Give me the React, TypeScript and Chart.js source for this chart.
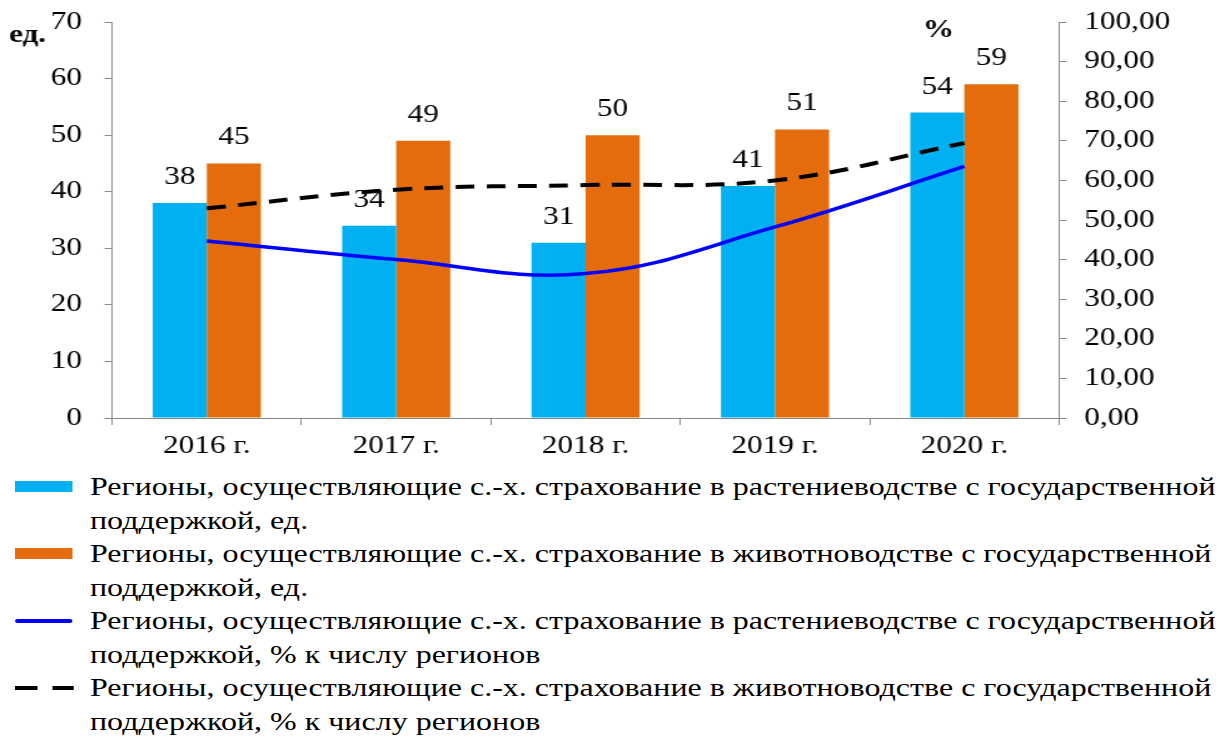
import React, { useEffect, useRef } from "react";
import { Chart, registerables } from "chart.js";

Chart.register(...registerables);

const categories = ["2016 г.", "2017 г.", "2018 г.", "2019 г.", "2020 г."];
const cropRegions = [38, 34, 31, 41, 54];
const livestockRegions = [45, 49, 50, 51, 59];
const cropPercent = [44.71, 40.0, 36.47, 48.24, 63.53];
const livestockPercent = [52.94, 57.65, 58.82, 60.0, 69.41];

const legendLabels = [
  ["Регионы, осуществляющие с.-х. страхование в растениеводстве с государственной", "поддержкой, ед."],
  ["Регионы, осуществляющие с.-х. страхование в животноводстве с государственной", "поддержкой, ед."],
  ["Регионы, осуществляющие с.-х. страхование в растениеводстве с государственной", "поддержкой, % к числу регионов"],
  ["Регионы, осуществляющие с.-х. страхование в животноводстве с государственной", "поддержкой, % к числу регионов"],
];

const S = 1.25;
const W = 1226 / S;
const FONT = "'Liberation Serif', 'Times New Roman', serif";
const BLUE_BAR = "#00B0F0";
const ORANGE_BAR = "#E46C0A";
const BLUE_LINE = "#0000FF";
const AXIS = "#898989";

const labelPlugin = {
  id: "labelsAndTitles",
  afterDatasetsDraw(chart: any) {
    const ctx = chart.ctx;
    ctx.save();
    ctx.fillStyle = "#000";
    ctx.font = `25px ${FONT}`;
    ctx.textAlign = "center";
    ctx.textBaseline = "alphabetic";
    [0, 1].forEach((di) => {
      const meta = chart.getDatasetMeta(di);
      const vals = chart.data.datasets[di].data as number[];
      meta.data.forEach((bar: any, j: number) => {
        ctx.fillText(String(vals[j]), bar.x, bar.y - 19);
      });
    });
    ctx.font = `bold 25px ${FONT}`;
    ctx.textAlign = "left";
    ctx.fillText("ед.", 9 / S, 42);
    ctx.fillText("%", 922 / S, 37);
    ctx.restore();
  },
};

export default function App() {
  const ref = useRef<HTMLCanvasElement | null>(null);
  useEffect(() => {
    if (!ref.current) return;
    const tickFont = { family: FONT, size: 25 };
    const chart = new Chart(ref.current, {
      type: "bar",
      data: {
        labels: categories,
        datasets: [
          {
            type: "bar",
            label: legendLabels[0].join(" "),
            data: cropRegions,
            backgroundColor: BLUE_BAR,
            yAxisID: "y",
            order: 1,
            categoryPercentage: 0.571,
            barPercentage: 1,
          },
          {
            type: "bar",
            label: legendLabels[1].join(" "),
            data: livestockRegions,
            backgroundColor: ORANGE_BAR,
            yAxisID: "y",
            order: 1,
            categoryPercentage: 0.571,
            barPercentage: 1,
          },
          {
            type: "line",
            label: legendLabels[2].join(" "),
            data: cropPercent,
            borderColor: BLUE_LINE,
            borderWidth: 3.5,
            pointRadius: 0,
            tension: 0.4,
            yAxisID: "y1",
            order: 0,
          },
          {
            type: "line",
            label: legendLabels[3].join(" "),
            data: livestockPercent,
            borderColor: "#000",
            borderWidth: 4,
            borderDash: [15, 10],
            pointRadius: 0,
            tension: 0.4,
            yAxisID: "y1",
            order: 0,
          },
        ] as any,
      },
      options: {
        animation: false,
        responsive: true,
        maintainAspectRatio: false,
        layout: { padding: { top: 22, left: 0, right: 0, bottom: 0 } },
        plugins: { legend: { display: false }, tooltip: { enabled: false } },
        scales: {
          x: {
            grid: { offset: true, drawOnChartArea: false, drawTicks: true, tickLength: 7, color: AXIS },
            border: { color: AXIS },
            ticks: { font: tickFont, color: "#000", padding: 6 },
            afterFit: (s: any) => { s.height = 42; s.paddingLeft = 0; s.paddingRight = 0; },
          },
          y: {
            position: "left",
            min: 0,
            max: 70,
            ticks: { stepSize: 10, font: tickFont, color: "#000", padding: 18 },
            grid: { drawOnChartArea: false, drawTicks: true, tickLength: 6, color: AXIS },
            border: { color: AXIS },
            afterFit: (s: any) => { s.width = 112 / S; s.paddingTop = 0; s.paddingBottom = 0; },
          },
          y1: {
            position: "right",
            min: 0,
            max: 100,
            ticks: {
              stepSize: 10,
              font: tickFont,
              color: "#000",
              padding: 14,
              callback: (v: any) => Number(v).toFixed(2).replace(".", ","),
            },
            grid: { drawOnChartArea: false, drawTicks: true, tickLength: 6, color: AXIS },
            border: { color: AXIS },
            afterFit: (s: any) => { s.width = (1226 - 1058) / S; s.paddingTop = 0; s.paddingBottom = 0; },
          },
        },
      } as any,
      plugins: [labelPlugin],
    });
    return () => chart.destroy();
  }, []);

  const markerBox = (color: string) => (
    <div style={{ position: "absolute", left: 15 / S, top: 11, width: 57 / S, height: 11, background: color }} />
  );
  const markers = [
    markerBox(BLUE_BAR),
    markerBox(ORANGE_BAR),
    <div style={{ position: "absolute", left: 15 / S, top: 15, width: 57 / S, height: 3.5, background: BLUE_LINE, borderRadius: 2 }} />,
    <div style={{ position: "absolute", left: 15 / S, top: 15, width: 57 / S, height: 4 }}>
      <div style={{ position: "absolute", left: 0, top: 0, width: 22 / S, height: 4, background: "#000" }} />
      <div style={{ position: "absolute", left: 37 / S, top: 0, width: 22 / S, height: 4, background: "#000" }} />
    </div>,
  ];

  return (
    <div
      style={{
        position: "absolute",
        left: 0,
        top: 0,
        width: W,
        height: 738,
        transform: `scaleX(${S})`,
        transformOrigin: "0 0",
        background: "#fff",
        overflow: "hidden",
      }}
    >
      <div style={{ position: "absolute", left: 0, top: 0, width: W, height: 460 }}>
        <canvas ref={ref} />
      </div>
      {legendLabels.map((lines, i) => (
        <div
          key={i}
          style={{
            position: "absolute",
            left: 0,
            top: 470 + i * 67,
            width: W,
            height: 67,
            fontFamily: FONT,
            fontSize: 25.6,
            lineHeight: "33.5px",
            color: "#000",
            whiteSpace: "nowrap",
          }}
        >
          {markers[i]}
          <div style={{ position: "absolute", left: 90 / S, top: 0 }}>
            {lines[0]}
            <br />
            {lines[1]}
          </div>
        </div>
      ))}
    </div>
  );
}
